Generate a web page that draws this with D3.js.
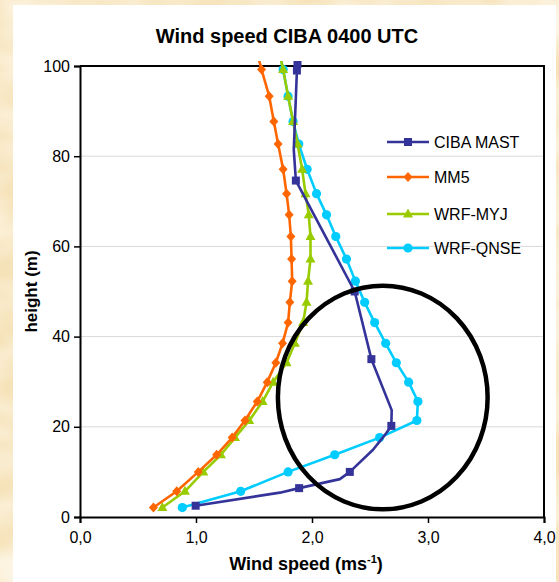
<!DOCTYPE html>
<html>
<head>
<meta charset="utf-8">
<script src="https://cdn.jsdelivr.net/npm/d3@7"></script>
<style>
    body { margin: 0; background: #f8e8c6; }
    svg text { font-family: "Liberation Sans", Arial, sans-serif; fill: #000; }
</style>
</head>
<body>
<svg id="chart"></svg>
<script>
// Model levels (m), shared by MM5 and both WRF runs (first level is above the axis, clipped)
var modelHeight = [105.5, 99.2, 93.3, 87.7, 82.7, 77.1, 71.7, 67.0, 62.2, 57.2, 52.3, 47.6,
                   43.1, 38.5, 34.2, 29.9, 25.6, 21.4, 17.6, 13.8, 10.0, 5.7, 2.1];
var mm5Speed  = [1.50, 1.565, 1.631, 1.671, 1.708, 1.751, 1.781, 1.803, 1.818, 1.824, 1.829, 1.809,
                 1.794, 1.746, 1.688, 1.614, 1.528, 1.422, 1.312, 1.178, 1.020, 0.834, 0.633];
var myjSpeed  = [1.70, 1.751, 1.794, 1.837, 1.875, 1.915, 1.944, 1.972, 1.987, 1.987, 1.966, 1.953,
                 1.923, 1.852, 1.781, 1.665, 1.574, 1.459, 1.336, 1.215, 1.063, 0.905, 0.710];
var qnseSpeed = [1.70, 1.751, 1.794, 1.837, 1.886, 1.958, 2.039, 2.125, 2.205, 2.297, 2.374, 2.454,
                 2.540, 2.635, 2.727, 2.833, 2.913, 2.904, 2.583, 2.196, 1.794, 1.385, 0.882];

// Mast profile; cibaMarked = 1 where the chart shows a marker
var cibaHeight = [105.0, 100.5, 99.0, 81.4, 74.6, 50.0, 35.0, 23.7, 20.2, 18.6, 14.9, 10.0, 8.4, 6.4, 5.4, 2.5];
var cibaSpeed  = [1.88, 1.875, 1.870, 1.843, 1.861, 2.368, 2.512, 2.687, 2.684, 2.641, 2.526, 2.326, 2.240, 1.889, 1.723, 0.997];
var cibaMarked = [0, 1, 1, 0, 1, 1, 1, 0, 1, 0, 0, 1, 0, 1, 0, 1];

var seriesNames  = ["CIBA MAST", "MM5", "WRF-MYJ", "WRF-QNSE"];
var seriesColors = ["#333399", "#ff6600", "#99cc00", "#00ccff"];
var seriesShapes = ["square", "diamond", "triangle", "circle"];

var xTicks = [0, 1, 2, 3, 4];
var yTicks = [0, 20, 40, 60, 80, 100];

// the hand-drawn ellipse, in data units (centre speed, centre height, half-width, half-height)
var ringCentre = [2.61, 26.5];
var ringRadius = [0.904, 24.8];

(function() {
    var svgWidth = 559, svgHeight = 582;
    var margin = { top: 66, left: 80, right: 15, bottom: 65 };
    var width = svgWidth - margin.left - margin.right,
        height = svgHeight - margin.top - margin.bottom;

    var svg = d3.select("#chart")
        .attr("width", svgWidth)
        .attr("height", svgHeight);

    // marbled paper background
    var defs = svg.append("defs");
    var f = defs.append("filter").attr("id", "marble")
        .attr("x", 0).attr("y", 0).attr("width", "100%").attr("height", "100%");
    f.append("feTurbulence").attr("type", "fractalNoise")
        .attr("baseFrequency", "0.012 0.02").attr("numOctaves", 3).attr("seed", 4);
    f.append("feColorMatrix").attr("type", "matrix")
        .attr("values", "0 0 0 0 1  0 0 0 0 0.97  0 0 0 0 0.9  0 0 0 -1.6 1.05");
    f.append("feComposite").attr("in2", "SourceGraphic").attr("operator", "in");

    svg.append("rect").attr("width", svgWidth).attr("height", svgHeight).attr("fill", "#f6e2b8");
    svg.append("rect").attr("width", svgWidth).attr("height", svgHeight)
        .attr("fill", "#fff").attr("filter", "url(#marble)");

    // white chart area
    svg.append("rect")
        .attr("x", 13).attr("y", 5)
        .attr("width", 543).attr("height", svgHeight - 5)
        .attr("fill", "#fff");

    var x = d3.scaleLinear().domain([0, 4]).range([0, width]);
    var y = d3.scaleLinear().domain([0, 100]).range([height, 0]);

    var g = svg.append("g")
        .attr("transform", "translate(" + margin.left + "," + margin.top + ")");

    // gridlines
    g.append("g").selectAll("line")
        .data(yTicks.filter(d => d > 0 && d < 100))
        .join("line")
            .attr("x1", 0).attr("x2", width)
            .attr("y1", d => y(d)).attr("y2", d => y(d))
            .attr("stroke", "#d9d9d9").attr("stroke-width", 1);

    // axes
    var xAxis = g.append("g")
        .attr("transform", "translate(0," + height + ")")
        .call(d3.axisBottom(x).tickValues(xTicks).tickSize(6).tickPadding(9)
            .tickFormat(d => d3.format(".1f")(d).replace(".", ",")));
    var yAxis = g.append("g")
        .call(d3.axisLeft(y).tickValues(yTicks).tickSize(6).tickPadding(4));

    [xAxis, yAxis].forEach(function(a) {
        a.select(".domain").attr("stroke", "#000").attr("stroke-width", 2);
        a.selectAll(".tick line").attr("stroke", "#000").attr("stroke-width", 1.5);
        a.selectAll(".tick text")
            .attr("font-family", "Liberation Sans, Arial, sans-serif")
            .attr("font-size", 16).attr("fill", "#000");
    });

    // top and right frame
    g.append("path")
        .attr("d", "M0,0H" + width + "V" + height)
        .attr("fill", "none").attr("stroke", "#000").attr("stroke-width", 2);

    // clip lines a few pixels above the top of the plot area
    defs.append("clipPath").attr("id", "plotclip")
        .append("rect").attr("x", -5).attr("y", -5).attr("width", width + 10).attr("height", height + 10);

    function symbolPath(shape) {
        if (shape === "square") return "M-4,-4H4V4H-4Z";
        if (shape === "diamond") return "M0,-5L4.5,0L0,5L-4.5,0Z";
        if (shape === "triangle") return "M0,-5.5L5,3.5H-5Z";
        return "M4.6,0A4.6,4.6 0 1,1 -4.6,0A4.6,4.6 0 1,1 4.6,0Z";
    }

    var series = [
        { speed: cibaSpeed, height: cibaHeight, marked: cibaMarked },
        { speed: mm5Speed,  height: modelHeight },
        { speed: myjSpeed,  height: modelHeight },
        { speed: qnseSpeed, height: modelHeight }
    ].map(function(s, i) {
        return {
            name: seriesNames[i], color: seriesColors[i], shape: seriesShapes[i],
            points: s.speed.map((v, j) => ({ v: v, h: s.height[j], mark: s.marked ? s.marked[j] : 1 }))
        };
    });

    var line = d3.line().x(d => x(d.v)).y(d => y(d.h));

    var plot = g.append("g").attr("clip-path", "url(#plotclip)");

    // draw back to front: QNSE, MYJ, MM5, mast
    series.slice().reverse().forEach(function(s) {
        var sg = plot.append("g");
        sg.append("path")
            .datum(s.points)
            .attr("d", line)
            .attr("fill", "none")
            .attr("stroke", s.color)
            .attr("stroke-width", 2.6)
            .attr("stroke-linejoin", "round");
        sg.selectAll("path.mark")
            .data(s.points.filter(d => d.mark))
            .join("path")
                .attr("class", "mark")
                .attr("d", symbolPath(s.shape))
                .attr("transform", d => "translate(" + x(d.v) + "," + y(d.h) + ")")
                .attr("fill", s.color);
    });

    // ellipse annotation
    g.append("ellipse")
        .attr("cx", x(ringCentre[0]))
        .attr("cy", y(ringCentre[1]))
        .attr("rx", x(ringRadius[0]) - x(0))
        .attr("ry", y(0) - y(ringRadius[1]))
        .attr("fill", "none")
        .attr("stroke", "#000")
        .attr("stroke-width", 4.5);

    // legend
    var legend = g.append("g").attr("transform", "translate(307,76)");
    var item = legend.selectAll("g")
        .data(series)
        .join("g")
            .attr("transform", (d, i) => "translate(0," + [0, 35, 72, 106][i] + ")");
    item.append("line")
        .attr("x1", 0).attr("x2", 42)
        .attr("stroke", d => d.color).attr("stroke-width", 2.6);
    item.append("path")
        .attr("d", d => symbolPath(d.shape))
        .attr("transform", "translate(21,0)")
        .attr("fill", d => d.color);
    item.append("text")
        .attr("x", 47).attr("dy", "0.36em")
        .attr("font-size", 16)
        .text(d => d.name);

    // titles
    svg.append("text")
        .attr("x", 287).attr("y", 43)
        .attr("text-anchor", "middle")
        .attr("font-size", 20).attr("font-weight", "bold")
        .text("Wind speed CIBA 0400 UTC");

    var xt = svg.append("text")
        .attr("x", margin.left + width / 2 - 6).attr("y", 570)
        .attr("text-anchor", "middle")
        .attr("font-size", 18).attr("font-weight", "bold");
    xt.append("tspan").text("Wind speed (ms");
    xt.append("tspan").attr("dy", -7).attr("font-size", 11).text("-1");
    xt.append("tspan").attr("dy", 7).text(")");

    svg.append("text")
        .attr("transform", "translate(37," + (margin.top + height / 2) + ") rotate(-90)")
        .attr("text-anchor", "middle")
        .attr("font-size", 17).attr("font-weight", "bold")
        .text("height (m)");
})();
</script>
</body>
</html>
